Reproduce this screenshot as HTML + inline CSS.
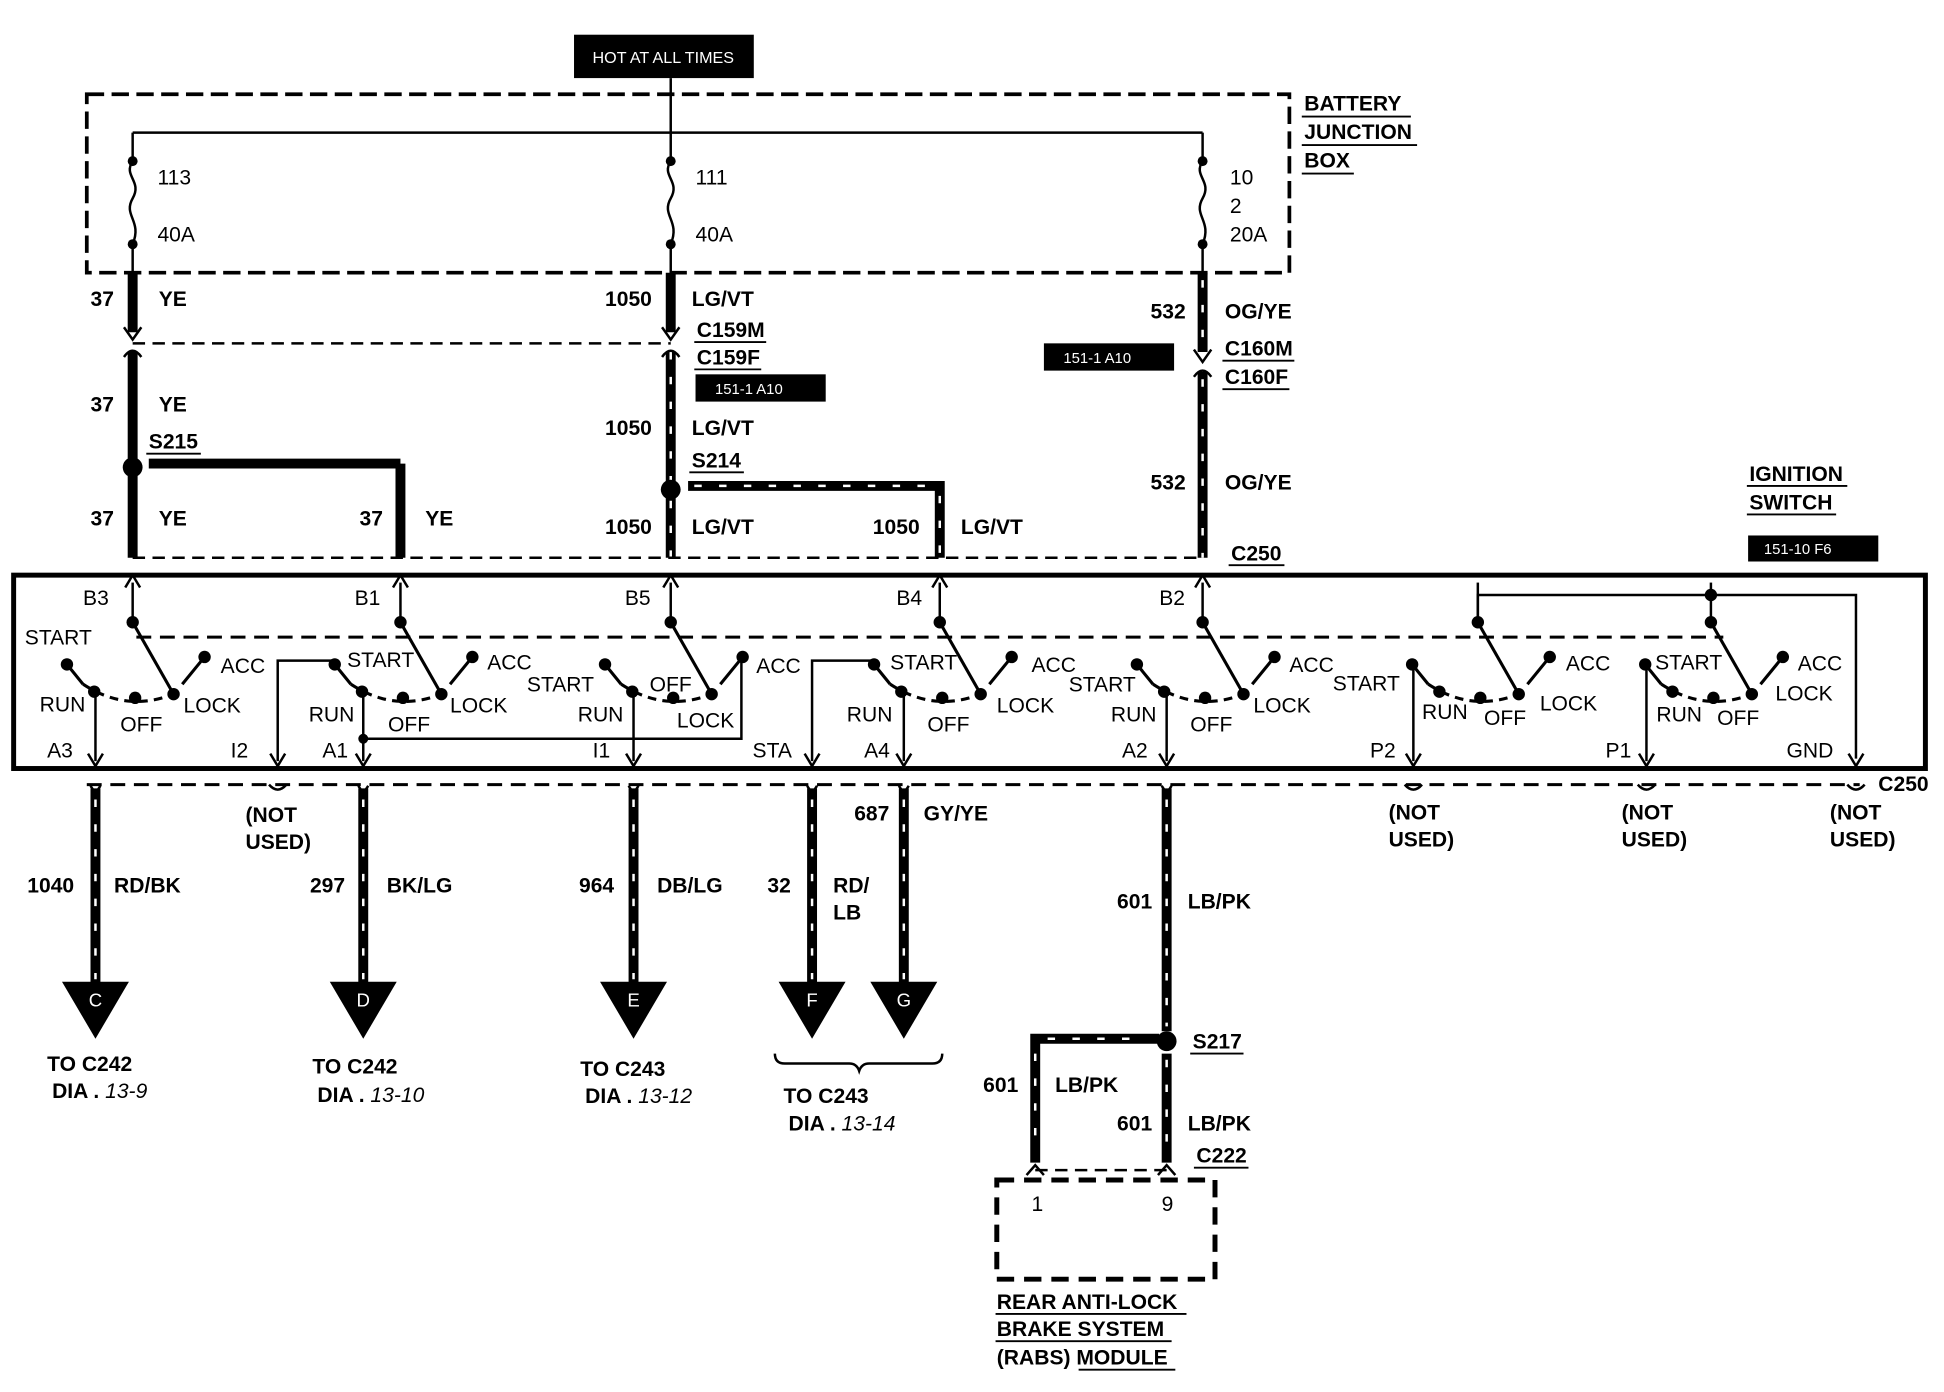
<!DOCTYPE html>
<html><head><meta charset="utf-8"><style>
html,body{margin:0;padding:0;background:#fff;}
svg{display:block;}
text{font-family:"Liberation Sans",Arial,sans-serif;font-size:17px;fill:#000;}
.b{font-weight:bold;}
.w{fill:#fff;font-size:12px;}
</style></head><body>
<svg width="1944" height="1392" viewBox="0 0 1568 1123" preserveAspectRatio="none" xmlns="http://www.w3.org/2000/svg">
<defs>
<g id="sw">
<line x1="0" y1="470" x2="0" y2="502" stroke="#000" stroke-width="2"/>
<line x1="0" y1="502" x2="33" y2="560" stroke="#000" stroke-width="2.5"/>
<line x1="-53" y1="536" x2="-40" y2="552" stroke="#000" stroke-width="2.5"/>
<path d="M-40,552 Q-5,575 33,560" fill="none" stroke="#000" stroke-width="2.5" stroke-dasharray="7,5"/>
<line x1="40" y1="552" x2="58" y2="530" stroke="#000" stroke-width="2.5"/>
<circle cx="0" cy="502" r="5"/><circle cx="-53" cy="536" r="5"/><circle cx="-31" cy="558" r="5"/>
<circle cx="2" cy="563" r="5"/><circle cx="33" cy="560" r="5"/><circle cx="58" cy="530" r="5"/>
</g>
<path id="au" d="M-6,474 L0,464 L6,474" fill="none" stroke="#000" stroke-width="2"/>
<path id="ad" d="M-6,608 L0,618 L6,608" fill="none" stroke="#000" stroke-width="2"/>
</defs>

<!-- HOT AT ALL TIMES -->
<rect x="463" y="28" width="145" height="35" fill="#000"/>
<text x="535" y="51" class="w" text-anchor="middle" style="font-size:13px">HOT AT ALL TIMES</text>

<!-- battery junction box -->
<rect x="70" y="76" width="970" height="144" fill="none" stroke="#000" stroke-width="3" stroke-dasharray="14,6"/>
<text x="1052" y="89" class="b">BATTERY</text><line x1="1050" y1="94" x2="1138" y2="94" stroke="#000" stroke-width="1.5"/>
<text x="1052" y="112" class="b">JUNCTION</text><line x1="1050" y1="117" x2="1143" y2="117" stroke="#000" stroke-width="1.5"/>
<text x="1052" y="135" class="b">BOX</text><line x1="1050" y1="140" x2="1092" y2="140" stroke="#000" stroke-width="1.5"/>

<line x1="541" y1="63" x2="541" y2="130" stroke="#000" stroke-width="2"/>
<line x1="107" y1="107" x2="970" y2="107" stroke="#000" stroke-width="2"/>
<line x1="107" y1="107" x2="107" y2="130" stroke="#000" stroke-width="2"/>
<line x1="970" y1="107" x2="970" y2="130" stroke="#000" stroke-width="2"/>
<g fill="none" stroke="#000" stroke-width="2">
<path d="M107,130 c-8,12 8,16 0,30 c-8,14 8,18 0,37"/>
<path d="M541,130 c-8,12 8,16 0,30 c-8,14 8,18 0,37"/>
<path d="M970,130 c-8,12 8,16 0,30 c-8,14 8,18 0,37"/>
</g>
<g><circle cx="107" cy="130" r="4"/><circle cx="107" cy="197" r="4"/><circle cx="541" cy="130" r="4"/><circle cx="541" cy="197" r="4"/><circle cx="970" cy="130" r="4"/><circle cx="970" cy="197" r="4"/></g>
<line x1="107" y1="197" x2="107" y2="222" stroke="#000" stroke-width="2"/>
<line x1="541" y1="197" x2="541" y2="222" stroke="#000" stroke-width="2"/>
<line x1="970" y1="197" x2="970" y2="222" stroke="#000" stroke-width="2"/>
<text x="127" y="149" class="b" style="font-weight:normal">113</text><text x="127" y="195">40A</text>
<text x="561" y="149">111</text><text x="561" y="195">40A</text>
<text x="992" y="149">10</text><text x="992" y="172">2</text><text x="992" y="195">20A</text>

<!-- thick wires upper -->
<g stroke="#000" stroke-width="8">
<line x1="107" y1="220" x2="107" y2="268"/><line x1="107" y1="284" x2="107" y2="450"/>
<line x1="541" y1="220" x2="541" y2="268"/><line x1="541" y1="284" x2="541" y2="450"/>
<line x1="970" y1="220" x2="970" y2="284"/><line x1="970" y1="300" x2="970" y2="450"/>
<line x1="323" y1="374" x2="323" y2="450"/>
<polyline points="120,374 323,374" fill="none"/>
<polyline points="555,392 758,392 758,450" fill="none"/>
</g>
<g stroke="#fff" stroke-width="2" stroke-dasharray="6,14">
<line x1="541" y1="284" x2="541" y2="450"/>
<line x1="970" y1="226" x2="970" y2="284"/><line x1="970" y1="306" x2="970" y2="450"/>
<line x1="560" y1="392" x2="754" y2="392"/><line x1="758" y1="400" x2="758" y2="450"/>
</g>
<!-- connector arrows -->
<g fill="none" stroke="#000" stroke-width="2">
<path d="M100,264 L107,274 L114,264"/><path d="M100,288 Q107,278 114,288"/>
<path d="M534,264 L541,274 L548,264"/><path d="M534,288 Q541,278 548,288"/>
<path d="M963,282 L970,292 L977,282"/><path d="M963,304 Q970,294 977,304"/>
</g>
<line x1="107" y1="277" x2="541" y2="277" stroke="#000" stroke-width="2" stroke-dasharray="10,6"/>
<line x1="107" y1="450" x2="970" y2="450" stroke="#000" stroke-width="2" stroke-dasharray="10,6"/>
<circle cx="107" cy="377" r="8"/><circle cx="541" cy="395" r="8"/>

<g class="b">
<text x="73" y="247" class="b">37</text><text x="128" y="247" class="b">YE</text>
<text x="488" y="247" class="b">1050</text><text x="558" y="247" class="b">LG/VT</text>
<text x="928" y="257" class="b">532</text><text x="988" y="257" class="b">OG/YE</text>
<text x="562" y="272" class="b">C159M</text><text x="562" y="294" class="b">C159F</text>
<text x="988" y="287" class="b">C160M</text><text x="988" y="310" class="b">C160F</text>
<text x="73" y="332" class="b">37</text><text x="128" y="332" class="b">YE</text>
<text x="488" y="351" class="b">1050</text><text x="558" y="351" class="b">LG/VT</text>
<text x="120" y="362" class="b">S215</text><text x="558" y="377" class="b">S214</text>
<text x="928" y="395" class="b">532</text><text x="988" y="395" class="b">OG/YE</text>
<text x="73" y="424" class="b">37</text><text x="128" y="424" class="b">YE</text>
<text x="290" y="424" class="b">37</text><text x="343" y="424" class="b">YE</text>
<text x="488" y="431" class="b">1050</text><text x="558" y="431" class="b">LG/VT</text>
<text x="704" y="431" class="b">1050</text><text x="775" y="431" class="b">LG/VT</text>
<text x="993" y="452" class="b">C250</text>
<text x="1411" y="388" class="b">IGNITION</text><text x="1411" y="411" class="b">SWITCH</text>
</g>
<g stroke="#000" stroke-width="1.5">
<line x1="560" y1="276" x2="618" y2="276"/><line x1="560" y1="298" x2="614" y2="298"/>
<line x1="986" y1="291" x2="1044" y2="291"/><line x1="986" y1="314" x2="1040" y2="314"/>
<line x1="118" y1="366" x2="162" y2="366"/><line x1="556" y1="381" x2="600" y2="381"/>
<line x1="991" y1="456" x2="1036" y2="456"/>
<line x1="1409" y1="392" x2="1490" y2="392"/><line x1="1409" y1="415" x2="1481" y2="415"/>
</g>
<rect x="561" y="302" width="105" height="22" fill="#000"/><text x="604" y="318" class="w" text-anchor="middle">151-1 A10</text>
<rect x="842" y="277" width="105" height="22" fill="#000"/><text x="885" y="293" class="w" text-anchor="middle">151-1 A10</text>
<rect x="1410" y="432" width="105" height="21" fill="#000"/><text x="1450" y="447" class="w" text-anchor="middle">151-10 F6</text>

<!-- ignition switch box -->
<rect x="11" y="464" width="1542" height="156" fill="none" stroke="#000" stroke-width="4"/>
<line x1="110" y1="514" x2="1390" y2="514" stroke="#000" stroke-width="2.5" stroke-dasharray="12,7"/>
<use href="#sw" transform="translate(107,0)"/><use href="#au" transform="translate(107,0)"/>
<use href="#sw" transform="translate(323,0)"/><use href="#au" transform="translate(323,0)"/>
<use href="#sw" transform="translate(541,0)"/><use href="#au" transform="translate(541,0)"/>
<use href="#sw" transform="translate(758,0)"/><use href="#au" transform="translate(758,0)"/>
<use href="#sw" transform="translate(970,0)"/><use href="#au" transform="translate(970,0)"/>
<use href="#sw" transform="translate(1192,0)"/>
<use href="#sw" transform="translate(1380,0)"/>
<polyline points="1192,502 1192,480 1497,480 1497,612" fill="none" stroke="#000" stroke-width="2"/>
<circle cx="1380" cy="480" r="5"/>
<!-- internal vertical connections -->
<g stroke="#000" stroke-width="2" fill="none">
<line x1="77" y1="558" x2="77" y2="614"/>
<polyline points="224,614 224,533 270,533"/>
<line x1="293" y1="558" x2="293" y2="614"/>
<polyline points="293,596 598,596 598,530"/>
<line x1="511" y1="558" x2="511" y2="614"/>
<polyline points="655,614 655,533 705,533"/>
<line x1="729" y1="558" x2="729" y2="614"/>
<line x1="941" y1="558" x2="941" y2="614"/>
<line x1="1140" y1="536" x2="1140" y2="614"/>
<line x1="1328" y1="533" x2="1328" y2="614"/>
</g>
<circle cx="293" cy="596" r="4"/>
<use href="#ad" transform="translate(77,0)"/><use href="#ad" transform="translate(224,0)"/><use href="#ad" transform="translate(293,0)"/>
<use href="#ad" transform="translate(511,0)"/><use href="#ad" transform="translate(655,0)"/><use href="#ad" transform="translate(729,0)"/>
<use href="#ad" transform="translate(941,0)"/><use href="#ad" transform="translate(1140,0)"/><use href="#ad" transform="translate(1328,0)"/><use href="#ad" transform="translate(1497,0)"/>

<g>
<text x="67" y="488">B3</text><text x="286" y="488">B1</text><text x="504" y="488">B5</text><text x="723" y="488">B4</text><text x="935" y="488">B2</text>
<text x="20" y="520">START</text><text x="178" y="543">ACC</text><text x="32" y="574">RUN</text><text x="97" y="590">OFF</text><text x="148" y="575">LOCK</text>
<text x="280" y="538">START</text><text x="393" y="540">ACC</text><text x="249" y="582">RUN</text><text x="313" y="590">OFF</text><text x="363" y="575">LOCK</text>
<text x="425" y="558">START</text><text x="610" y="543">ACC</text><text x="466" y="582">RUN</text><text x="524" y="558">OFF</text><text x="546" y="587">LOCK</text>
<text x="718" y="540">START</text><text x="832" y="542">ACC</text><text x="683" y="582">RUN</text><text x="748" y="590">OFF</text><text x="804" y="575">LOCK</text>
<text x="862" y="558">START</text><text x="1040" y="542">ACC</text><text x="896" y="582">RUN</text><text x="960" y="590">OFF</text><text x="1011" y="575">LOCK</text>
<text x="1075" y="557">START</text><text x="1263" y="541">ACC</text><text x="1147" y="580">RUN</text><text x="1197" y="585">OFF</text><text x="1242" y="573">LOCK</text>
<text x="1335" y="540">START</text><text x="1450" y="541">ACC</text><text x="1336" y="582">RUN</text><text x="1385" y="585">OFF</text><text x="1432" y="565">LOCK</text>
<text x="38" y="611">A3</text><text x="186" y="611">I2</text><text x="260" y="611">A1</text><text x="478" y="611">I1</text><text x="607" y="611">STA</text><text x="697" y="611">A4</text><text x="905" y="611">A2</text><text x="1105" y="611">P2</text><text x="1295" y="611">P1</text><text x="1441" y="611">GND</text>
</g>

<!-- lower connector line -->
<line x1="70" y1="633" x2="1500" y2="633" stroke="#000" stroke-width="2.5" stroke-dasharray="12,7"/>
<g fill="none" stroke="#000" stroke-width="2">
<path d="M217,633 q7,8 14,0"/><path d="M1133,633 q7,8 14,0"/><path d="M1321,633 q7,8 14,0"/><path d="M1490,633 q7,8 14,0"/>
</g>
<text x="1515" y="638" class="b">C250</text>
<g class="b">
<text x="198" y="663" class="b">(NOT</text><text x="198" y="685" class="b">USED)</text>
<text x="1120" y="661" class="b">(NOT</text><text x="1120" y="683" class="b">USED)</text>
<text x="1308" y="661" class="b">(NOT</text><text x="1308" y="683" class="b">USED)</text>
<text x="1476" y="661" class="b">(NOT</text><text x="1476" y="683" class="b">USED)</text>
</g>

<!-- lower wires -->
<g stroke="#000" stroke-width="8">
<line x1="77" y1="636" x2="77" y2="795"/><line x1="293" y1="636" x2="293" y2="795"/><line x1="511" y1="636" x2="511" y2="795"/>
<line x1="655" y1="636" x2="655" y2="795"/><line x1="729" y1="636" x2="729" y2="795"/><line x1="941" y1="636" x2="941" y2="832"/>
<polyline points="935,838 835,838 835,938" fill="none"/><line x1="941" y1="850" x2="941" y2="938"/>
</g>
<g stroke="#fff" stroke-width="2" stroke-dasharray="6,14">
<line x1="77" y1="645" x2="77" y2="790"/><line x1="293" y1="645" x2="293" y2="790"/><line x1="511" y1="645" x2="511" y2="790"/>
<line x1="655" y1="645" x2="655" y2="790"/><line x1="729" y1="645" x2="729" y2="790"/><line x1="941" y1="645" x2="941" y2="828"/>
<line x1="845" y1="838" x2="925" y2="838"/><line x1="835" y1="850" x2="835" y2="930"/><line x1="941" y1="855" x2="941" y2="930"/>
</g>
<g fill="none" stroke="#000" stroke-width="2">
<path d="M73,634 L77,640 L81,634"/><path d="M289,634 L293,640 L297,634"/><path d="M507,634 L511,640 L515,634"/><path d="M651,634 L655,640 L659,634"/><path d="M725,634 L729,640 L733,634"/><path d="M937,634 L941,640 L945,634"/>
</g>
<!-- triangles -->
<g>
<polygon points="50,792 104,792 77,838"/><polygon points="266,792 320,792 293,838"/><polygon points="484,792 538,792 511,838"/>
<polygon points="628,792 682,792 655,838"/><polygon points="702,792 756,792 729,838"/>
</g>
<g fill="#fff" text-anchor="middle" font-size="15">
<text x="77" y="812" style="fill:#fff;font-size:15px">C</text><text x="293" y="812" style="fill:#fff;font-size:15px">D</text><text x="511" y="812" style="fill:#fff;font-size:15px">E</text>
<text x="655" y="812" style="fill:#fff;font-size:15px">F</text><text x="729" y="812" style="fill:#fff;font-size:15px">G</text>
</g>
<g>
<text x="22" y="720" class="b">1040</text><text x="92" y="720" class="b">RD/BK</text>
<text x="250" y="720" class="b">297</text><text x="312" y="720" class="b">BK/LG</text>
<text x="467" y="720" class="b">964</text><text x="530" y="720" class="b">DB/LG</text>
<text x="619" y="720" class="b">32</text><text x="672" y="720" class="b">RD/</text><text x="672" y="742" class="b">LB</text>
<text x="689" y="662" class="b">687</text><text x="745" y="662" class="b">GY/YE</text>
<text x="901" y="733" class="b">601</text><text x="958" y="733" class="b">LB/PK</text>
<text x="38" y="864" class="b">TO C242</text><text x="42" y="886" class="b">DIA . <tspan font-style="italic" font-weight="normal">13-9</tspan></text>
<text x="252" y="866" class="b">TO C242</text><text x="256" y="889" class="b">DIA . <tspan font-style="italic" font-weight="normal">13-10</tspan></text>
<text x="468" y="868" class="b">TO C243</text><text x="472" y="890" class="b">DIA . <tspan font-style="italic" font-weight="normal">13-12</tspan></text>
<text x="632" y="890" class="b">TO C243</text><text x="636" y="912" class="b">DIA . <tspan font-style="italic" font-weight="normal">13-14</tspan></text>
<text x="962" y="846" class="b">S217</text>
<text x="793" y="881" class="b">601</text><text x="851" y="881" class="b">LB/PK</text>
<text x="901" y="912" class="b">601</text><text x="958" y="912" class="b">LB/PK</text>
<text x="965" y="938" class="b">C222</text>
<text x="832" y="977">1</text><text x="937" y="977">9</text>
<text x="804" y="1056" class="b">REAR ANTI-LOCK</text>
<text x="804" y="1078" class="b">BRAKE SYSTEM</text>
<text x="804" y="1101" class="b">(RABS) MODULE</text>
</g>
<path d="M625,850 q0,8 8,8 L685,858 q6,0 8,6 q2,-6 8,-6 L752,858 q8,0 8,-8" fill="none" stroke="#000" stroke-width="2"/>
<g stroke="#000" stroke-width="1.5">
<line x1="960" y1="850" x2="1003" y2="850"/><line x1="963" y1="942" x2="1007" y2="942"/>
<line x1="803" y1="1060" x2="957" y2="1060"/><line x1="803" y1="1082" x2="945" y2="1082"/><line x1="870" y1="1105" x2="948" y2="1105"/>
</g>
<circle cx="941" cy="840" r="8"/>
<line x1="835" y1="944" x2="941" y2="944" stroke="#000" stroke-width="2" stroke-dasharray="10,6"/>
<g fill="none" stroke="#000" stroke-width="2"><path d="M828,948 L835,940 L842,948"/><path d="M934,948 L941,940 L948,948"/></g>
<rect x="804" y="952" width="176" height="80" fill="none" stroke="#000" stroke-width="4" stroke-dasharray="14,8"/>
</svg>
</body></html>
